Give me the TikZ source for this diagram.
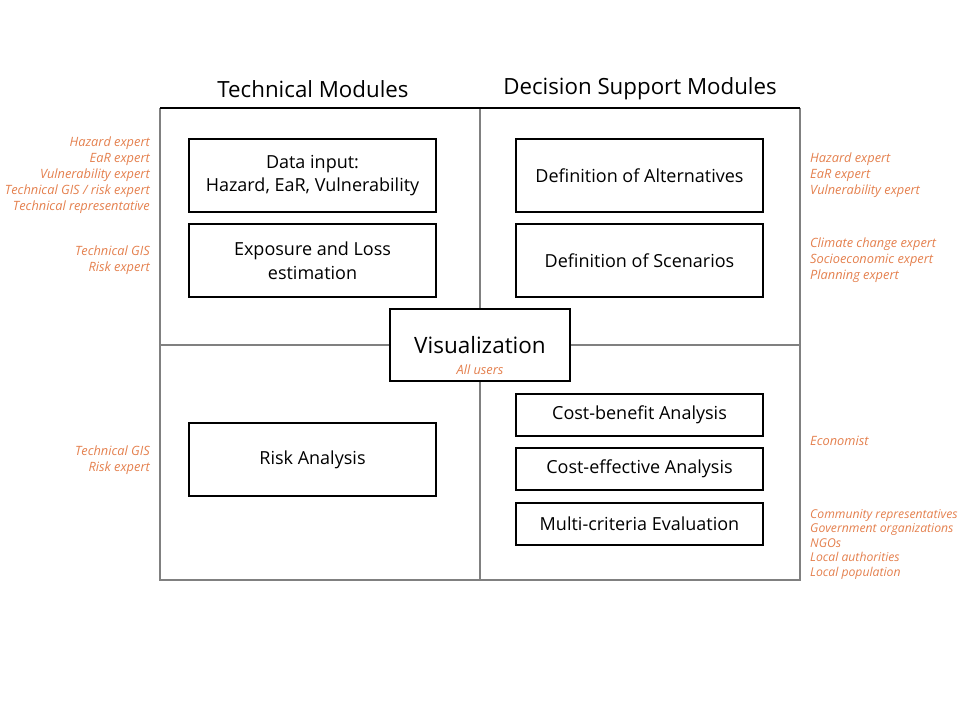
\documentclass[tikz,border=0pt]{standalone}
\usepackage{fontspec}
\setmainfont{Open Sans}
\usetikzlibrary{positioning, calc}
\definecolor{roleorange}{RGB}{228,128,78}
\definecolor{gridgray}{RGB}{128,128,128}

\begin{document}
\begin{tikzpicture}[
	x=1pt, y=-1pt,
	module/.style={draw, line width=1.8pt, minimum width=247pt, minimum height=73pt, align=center, inner sep=2pt, font=\fontsize{18}{23.5}\selectfont},
	smallmod/.style={module, minimum height=42pt},
	heading/.style={font=\fontsize{22.3}{26}\selectfont},
	roles/.style={text=roleorange, font=\fontsize{12.8}{16}\itshape\selectfont, inner sep=0pt},
	gridline/.style={draw=gridgray, line width=1.8pt},
	]
	
	\useasboundingbox (0,0) rectangle (960,720);
	
	% frame of the four quadrants
	\coordinate (tl) at (160,108);
	\coordinate (tm) at (480,108);
	\coordinate (tr) at (800,108);
	\coordinate (ml) at (160,345);
	\coordinate (mr) at (800,345);
	\coordinate (bl) at (160,580);
	\coordinate (bm) at (480,580);
	\coordinate (br) at (800,580);
	\draw[gridline] (tl) -- (bl) -- (br) -- (tr);
	\draw[gridline] (tm) -- (bm);
	\draw[gridline] (ml) -- (mr);
	\draw[line width=1.5pt] (tl) -- (tr);
	
	\node[heading] (tech) at (313,89) {Technical Modules};
	\node[heading] (dsm) at (640,89) {Decision Support Modules};
	
	% technical side
	\node[module] (input) at (312.5,175.5) {Data input:\\Hazard, EaR, Vulnerability};
	\node[module] (exposure) at (312.5,260.5) {Exposure and Loss\\estimation};
	\node[module] (risk) at (312.5,459.5) {Risk Analysis};
	
	% decision support side
	\node[module] (alt) at (639.5,175.5) {Definition of Alternatives};
	\node[module] (scen) at (639.5,260.5) {Definition of Scenarios};
	\node[smallmod] (cba) at (639.5,415) {Cost-benefit Analysis};
	\node[smallmod] (cea) at (639.5,469) {Cost-effective Analysis};
	\node[smallmod] (mce) at (639.5,524) {Multi-criteria Evaluation};
	
	% visualization in the middle
	\node[draw, fill=white, line width=1.8pt, minimum width=180pt, minimum height=72pt] (viz) at (480,345) {};
	\node[font=\fontsize{22.5}{26}\selectfont] (viztext) at (480,345) {Visualization};
	\node[roles] (vizusers) at (480,370) {All users};
	
	% users, left
	\node[roles, anchor=east, align=right] (inputusers) at (150,175) {Hazard expert\\EaR expert\\Vulnerability expert\\Technical GIS / risk expert\\Technical representative};
	\node[roles, anchor=east, align=right] (expusers) at (150,260) {Technical GIS\\Risk expert};
	\node[roles, anchor=east, align=right] (riskusers) at (150,460) {Technical GIS\\Risk expert};
	
	% users, right
	\node[roles, anchor=west, align=left] (altusers) at (810,175) {Hazard expert\\EaR expert\\Vulnerability expert};
	\node[roles, anchor=west, align=left] (scenusers) at (810,260) {Climate change expert\\Socioeconomic expert\\Planning expert};
	\node[roles, anchor=west] (cbausers) at (810,441) {Economist};
	\node[roles, anchor=west, align=left, font=\fontsize{12.2}{14.5}\itshape\selectfont] (mceusers) at (810,544) {Community representatives\\Government organizations\\NGOs\\Local authorities\\Local population};
	
\end{tikzpicture}
\end{document}
